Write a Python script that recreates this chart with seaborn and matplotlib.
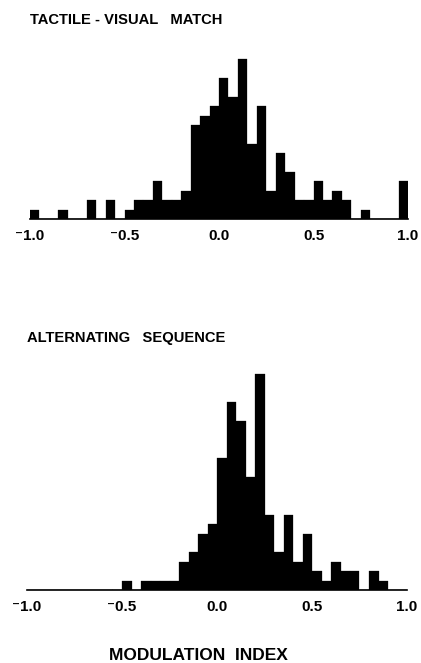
import numpy as np
import pandas as pd
import matplotlib
matplotlib.use("Agg")
import matplotlib.pyplot as plt
import seaborn as sns

# Bin edges: modulation index from -1.0 to 1.0 in steps of 0.05
bin_left = [round(-1.0 + 0.05 * i, 2) for i in range(40)]

# Counts per bin
tactile_visual_counts = [1, 0, 0, 1, 0, 0, 2, 0, 2, 0,
                         1, 2, 2, 4, 2, 2, 3, 10, 11, 12,
                         15, 13, 17, 8, 12, 3, 7, 5, 2, 2,
                         4, 2, 3, 2, 0, 1, 0, 0, 0, 4]
alternating_counts = [0, 0, 0, 0, 0, 0, 0, 0, 0, 0,
                      1, 0, 1, 1, 1, 1, 3, 4, 6, 7,
                      14, 20, 18, 12, 23, 8, 4, 8, 3, 6,
                      2, 1, 3, 2, 2, 0, 2, 1, 0, 0]

titles = ["TACTILE - VISUAL   MATCH", "ALTERNATING   SEQUENCE"]
tick_values = [-1.0, -0.5, 0.0, 0.5, 1.0]
tick_labels = ["\u207b1.0", "\u207b0.5", "0.0", "0.5", "1.0"]
x_label = "MODULATION  INDEX"

sns.set_style("white")
plt.rcParams["font.family"] = ["Liberation Sans", "DejaVu Sans"]
plt.rcParams["text.color"] = "black"
plt.rcParams["xtick.color"] = "black"

W, H = 421, 663
fig = plt.figure(figsize=(W / 100, H / 100), dpi=100)

unit_px = 9.4
panels = [
    dict(counts=tactile_visual_counts, left=30, right=408, base=219, ymax=18, title=titles[0], title_y=20),
    dict(counts=alternating_counts, left=27, right=407, base=590, ymax=24, title=titles[1], title_y=338),
]

for p in panels:
    h_px = p["ymax"] * unit_px
    ax = fig.add_axes([p["left"] / W, (H - p["base"]) / H,
                       (p["right"] - p["left"]) / W, h_px / H])
    df = pd.DataFrame({"mi": np.array(bin_left) + 0.025,
                       "n": np.array(p["counts"], dtype=float)})
    sns.histplot(data=df, x="mi", weights="n", bins=40, binrange=(-1.0, 1.0), ax=ax,
                 color="black", alpha=1.0, stat="count", edgecolor="black", linewidth=0.2)
    ax.set_xlim(-1.0, 1.0)
    ax.set_ylim(0, p["ymax"])
    for s in ["top", "right", "left"]:
        ax.spines[s].set_visible(False)
    ax.spines["bottom"].set_color("black")
    ax.spines["bottom"].set_linewidth(1.2)
    ax.set_yticks([])
    ax.set_ylabel("")
    ax.set_xlabel("")
    ax.set_xticks(tick_values)
    ax.set_xticklabels(tick_labels, fontsize=11, fontweight="bold")
    ax.set_xticks(np.round(np.arange(-1.0, 1.01, 0.1), 2), minor=True)
    ax.tick_params(axis="x", which="major", direction="out", length=4, width=1.2, color="black", pad=3)
    ax.tick_params(axis="x", which="minor", direction="out", length=3, width=1, color="black")
    fig.text(p["left"] / W, 1 - p["title_y"] / H, p["title"], fontsize=10.6,
             fontweight="bold", ha="left", va="center")

fig.text(198 / W, 1 - 655 / H, x_label, fontsize=12.5, fontweight="bold", ha="center", va="center")

fig.savefig("out.png", dpi=100, facecolor="white")
